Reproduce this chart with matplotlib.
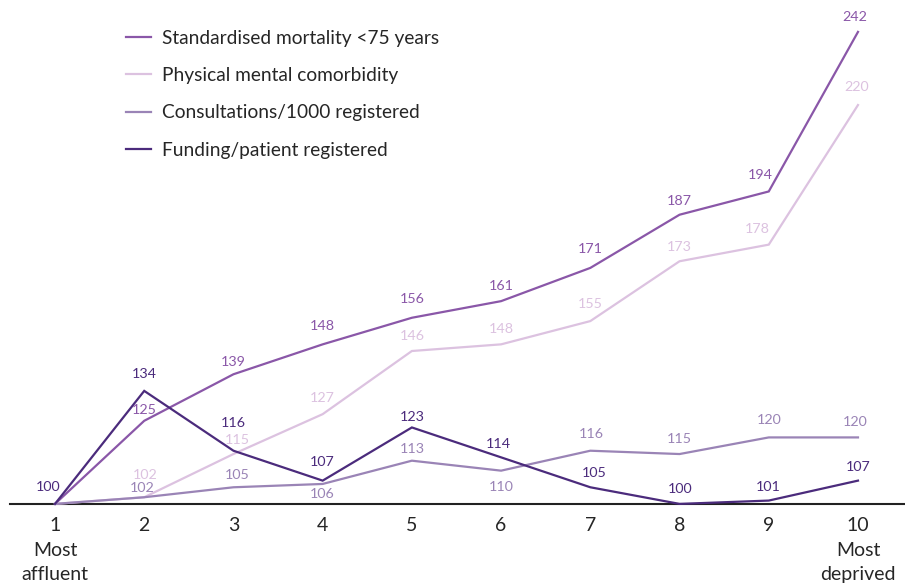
import matplotlib
matplotlib.use("Agg")
import matplotlib.pyplot as plt

plt.rcParams['font.family'] = ['Lato', 'DejaVu Sans']

deciles = [1, 2, 3, 4, 5, 6, 7, 8, 9, 10]
tick_labels = ["1\nMost\naffluent", "2", "3", "4", "5", "6", "7", "8", "9", "10\nMost\ndeprived"]

mortality = [100, 125, 139, 148, 156, 161, 171, 187, 194, 242]
comorbidity = [100, 102, 115, 127, 146, 148, 155, 173, 178, 220]
consultations = [100, 102, 105, 106, 113, 110, 116, 115, 120, 120]
funding = [100, 134, 116, 107, 123, 114, 105, 100, 101, 107]

series_names = ["Standardised mortality <75 years", "Physical mental comorbidity",
                "Consultations/1000 registered", "Funding/patient registered"]
colors = ["#8a57a8", "#dcc2e0", "#9a84b6", "#4b2b7c"]

# label offsets in pixels (dx, dy); None = no label drawn
label_offsets = [
    [None, (0, 11), (0, 12), (0, 18), (0, 19), (0, 15), (0, 19), (0, 14), (-8, 16), (-3, 15)],
    [None, (1, 22), (4, 14), (0, 16), (0, 15), (0, 15), (0, 17), (0, 14), (-11, 16), (-1, 18)],
    [None, (-2, 9), (4, 12), (0, -10), (0, 12), (0, -16), (1, 17), (0, 15), (0, 17), (-3, 15)],
    [(-7, 17), (0, 17), (0, 28), (0, 19), (0, 10), (-3, 13), (4, 14), (1, 15), (-1, 14), (0, 14)],
]

all_series = [mortality, comorbidity, consultations, funding]

fig = plt.figure(figsize=(9.05, 5.85), dpi=100)
ax = fig.add_axes([0, 0, 1, 1])

for name, vals, col, offs in zip(series_names, all_series, colors, label_offsets):
    ax.plot(deciles, vals, color=col, lw=1.6, label=name, solid_joinstyle='miter')
    for x, v, off in zip(deciles, vals, offs):
        if off is None:
            continue
        ax.annotate(str(v), (x, v), xytext=(off[0] * 0.72, off[1] * 0.72),
                    textcoords='offset points', ha='center', va='center',
                    fontsize=10.3, color=col)

ax.set_xlim(0.3835, 10.527)
ax.set_ylim(75.6, 251.6)

for s in ['top', 'right', 'left', 'bottom']:
    ax.spines[s].set_visible(False)
ax.axhline(100, xmin=10 / 905, xmax=1, color="#222222", lw=1.5, zorder=0)

ax.set_yticks([])
ax.set_xticks(deciles)
ax.set_xticklabels([])
for x, lab in zip(deciles, tick_labels):
    ax.annotate(lab, (x, 100), xytext=(0, -13 * 0.72), textcoords='offset points',
                ha='center', va='top', fontsize=14, color="#262626", linespacing=1.55)
ax.tick_params(length=0)

leg = ax.legend(loc='upper left', bbox_to_anchor=(118 / 905, 1 - 22 / 585), frameon=False,
                fontsize=13.8, handlelength=1.3, handletextpad=0.6, labelspacing=1.06,
                borderaxespad=0)
for t in leg.get_texts():
    t.set_color("#262626")

fig.savefig("out.png", dpi=100)
